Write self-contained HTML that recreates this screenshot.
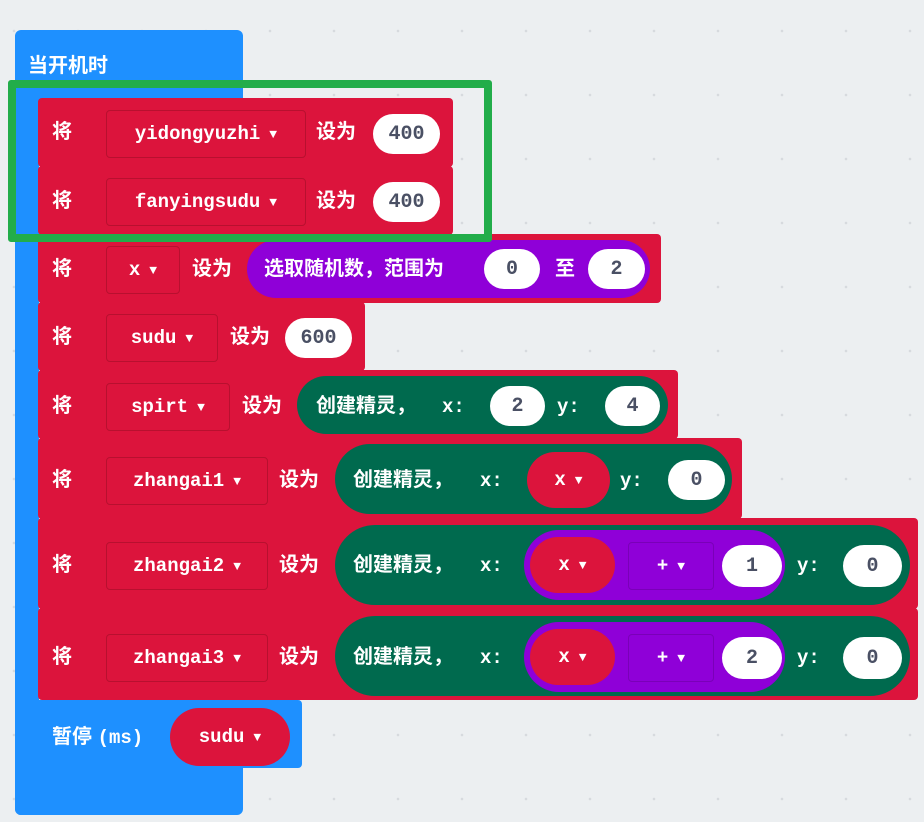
<!DOCTYPE html>
<html><head><meta charset="utf-8">
<style>
body{margin:0;width:924px;height:822px;overflow:hidden;background:#eceff1;position:relative;font-family:"Liberation Sans","Noto Sans CJK SC",sans-serif;}
.a{position:absolute;box-sizing:border-box;}
.blue{background:#1e90ff;}
.red{background:#dc143c;border-radius:4px;}
.t{position:absolute;color:#fff;font-size:20px;font-weight:bold;white-space:nowrap;line-height:1;font-family:"Liberation Sans","Noto Sans CJK SC",sans-serif;}
.m{font-family:"Liberation Mono","Noto Sans CJK SC",monospace;font-weight:bold;font-size:19px;}
.dd{position:absolute;border:1px solid #b8102f;border-radius:4px;color:#fff;display:flex;align-items:center;justify-content:center;font-family:"Liberation Mono",monospace;font-weight:bold;font-size:19px;white-space:nowrap;}
.ar{font-size:13px;margin-left:9px;}
.pill{position:absolute;border-radius:999px;}
.wn{position:absolute;background:#fff;border-radius:999px;color:#4a5064;display:flex;align-items:center;justify-content:center;font-family:"Liberation Mono",monospace;font-weight:bold;font-size:20px;}
.gr{background:#006a4e;}
.pu{background:#8f00d8;}
.rp{background:#dc143c;border-radius:999px;position:absolute;color:#fff;display:flex;align-items:center;justify-content:center;font-family:"Liberation Mono",monospace;font-weight:bold;font-size:19px;}
</style></head><body>
<div class="a" style="left:0;top:0;width:924px;height:822px;background-image:radial-gradient(circle,#d6dadd 1px,transparent 1.6px);background-size:64px 64px;background-position:-18px -1px;"></div>

<div class="a blue" style="left:15px;top:30px;width:228px;height:75px;border-radius:6px 6px 0 0;"></div>
<div class="a blue" style="left:15px;top:98px;width:24px;height:717px;border-radius:0 0 0 6px;"></div>
<div class="a blue" style="left:15px;top:768px;width:228px;height:47px;border-radius:0 0 6px 6px;"></div>
<div class="t" style="left:28px;top:56px;">当开机时</div>

<div class="a blue" style="left:38px;top:700px;width:264px;height:68px;border-radius:0 4px 4px 0;"></div>
<div class="t" style="left:52px;top:727px;">暂停 <span class="m">(ms)</span></div>
<div class="rp" style="left:170px;top:708px;width:120px;height:58px;">sudu<span class="ar">▼</span></div>

<div class="a red" style="left:38px;top:98px;width:415px;height:69px;"></div>
<div class="a red" style="left:38px;top:166px;width:415px;height:69px;"></div>
<div class="a red" style="left:38px;top:234px;width:623px;height:69px;"></div>
<div class="a red" style="left:38px;top:302px;width:327px;height:69px;"></div>
<div class="a red" style="left:38px;top:370px;width:640px;height:69px;"></div>
<div class="a red" style="left:38px;top:438px;width:704px;height:81px;"></div>
<div class="a red" style="left:38px;top:518px;width:880px;height:91px;"></div>
<div class="a red" style="left:38px;top:608px;width:880px;height:92px;"></div>

<div class="t" style="left:52px;top:122px;">将</div>
<div class="dd" style="left:106px;top:110px;width:198px;height:46px;">yidongyuzhi<span class="ar">▼</span></div>
<div class="t" style="left:316px;top:122px;">设为</div>
<div class="wn" style="left:373px;top:114px;width:67px;height:40px;">400</div>

<div class="t" style="left:52px;top:191px;">将</div>
<div class="dd" style="left:106px;top:178px;width:198px;height:46px;">fanyingsudu<span class="ar">▼</span></div>
<div class="t" style="left:316px;top:191px;">设为</div>
<div class="wn" style="left:373px;top:182px;width:67px;height:40px;">400</div>

<div class="t" style="left:52px;top:259px;">将</div>
<div class="dd" style="left:106px;top:246px;width:72px;height:46px;">x<span class="ar">▼</span></div>
<div class="t" style="left:192px;top:259px;">设为</div>
<div class="pill pu" style="left:247px;top:240px;width:403px;height:58px;"></div>
<div class="t" style="left:264px;top:259px;">选取随机数，范围为</div>
<div class="wn" style="left:484px;top:249px;width:56px;height:40px;">0</div>
<div class="t" style="left:555px;top:259px;">至</div>
<div class="wn" style="left:588px;top:249px;width:57px;height:40px;">2</div>

<div class="t" style="left:52px;top:327px;">将</div>
<div class="dd" style="left:106px;top:314px;width:110px;height:46px;">sudu<span class="ar">▼</span></div>
<div class="t" style="left:230px;top:327px;">设为</div>
<div class="wn" style="left:285px;top:318px;width:67px;height:40px;">600</div>

<div class="t" style="left:52px;top:396px;">将</div>
<div class="dd" style="left:106px;top:383px;width:122px;height:46px;">spirt<span class="ar">▼</span></div>
<div class="t" style="left:242px;top:396px;">设为</div>
<div class="pill gr" style="left:297px;top:376px;width:371px;height:58px;"></div>
<div class="t" style="left:316px;top:396px;">创建精灵，</div>
<div class="t m" style="left:442px;top:398px;">x:</div>
<div class="wn" style="left:490px;top:386px;width:55px;height:40px;">2</div>
<div class="t m" style="left:557px;top:398px;">y:</div>
<div class="wn" style="left:605px;top:386px;width:55px;height:40px;">4</div>

<div class="t" style="left:52px;top:470px;">将</div>
<div class="dd" style="left:106px;top:457px;width:160px;height:46px;">zhangai1<span class="ar">▼</span></div>
<div class="t" style="left:279px;top:470px;">设为</div>
<div class="pill gr" style="left:335px;top:444px;width:397px;height:70px;"></div>
<div class="t" style="left:353px;top:470px;">创建精灵，</div>
<div class="t m" style="left:480px;top:472px;">x:</div>
<div class="rp" style="left:527px;top:452px;width:83px;height:56px;">x<span class="ar">▼</span></div>
<div class="t m" style="left:620px;top:472px;">y:</div>
<div class="wn" style="left:668px;top:460px;width:57px;height:40px;">0</div>

<div class="t" style="left:52px;top:555px;">将</div>
<div class="dd" style="left:106px;top:542px;width:160px;height:46px;">zhangai2<span class="ar">▼</span></div>
<div class="t" style="left:279px;top:555px;">设为</div>
<div class="pill gr" style="left:335px;top:525px;width:575px;height:80px;"></div>
<div class="t" style="left:353px;top:555px;">创建精灵，</div>
<div class="t m" style="left:480px;top:557px;">x:</div>
<div class="pill pu" style="left:524px;top:530px;width:261px;height:70px;"></div>
<div class="rp" style="left:530px;top:537px;width:85px;height:56px;">x<span class="ar">▼</span></div>
<div class="dd" style="left:628px;top:542px;width:84px;height:46px;border-color:#7a00b8;">+<span class="ar">▼</span></div>
<div class="wn" style="left:722px;top:545px;width:60px;height:42px;">1</div>
<div class="t m" style="left:797px;top:557px;">y:</div>
<div class="wn" style="left:843px;top:545px;width:59px;height:42px;">0</div>

<div class="t" style="left:52px;top:647px;">将</div>
<div class="dd" style="left:106px;top:634px;width:160px;height:46px;">zhangai3<span class="ar">▼</span></div>
<div class="t" style="left:279px;top:647px;">设为</div>
<div class="pill gr" style="left:335px;top:616px;width:575px;height:80px;"></div>
<div class="t" style="left:353px;top:647px;">创建精灵，</div>
<div class="t m" style="left:480px;top:649px;">x:</div>
<div class="pill pu" style="left:524px;top:622px;width:261px;height:70px;"></div>
<div class="rp" style="left:530px;top:629px;width:85px;height:56px;">x<span class="ar">▼</span></div>
<div class="dd" style="left:628px;top:634px;width:84px;height:46px;border-color:#7a00b8;">+<span class="ar">▼</span></div>
<div class="wn" style="left:722px;top:637px;width:60px;height:42px;">2</div>
<div class="t m" style="left:797px;top:649px;">y:</div>
<div class="wn" style="left:843px;top:637px;width:59px;height:42px;">0</div>

<div class="a" style="left:8px;top:80px;width:484px;height:162px;border:8px solid #22ad4a;border-radius:3px;"></div>
</body></html>
